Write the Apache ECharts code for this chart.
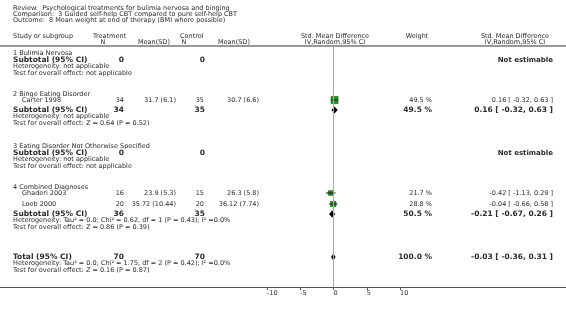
<!DOCTYPE html>
<html>
<head>
<meta charset="utf-8">
<script src="https://cdn.jsdelivr.net/npm/echarts@6/dist/echarts.min.js"></script>
<style>
html, body { margin: 0; padding: 0; background: #fff; }
#chart { width: 566px; height: 316px; }
</style>
</head>
<body>
<div id="chart"></div>
<script>
// titles
const titleLines = [
  'Review:  Psychological treatments for bulimia nervosa and binging',
  'Comparison:  3 Guided self-help CBT compared to pure self-help CBT',
  'Outcome:  8 Mean weight at end of therapy (BMI where possible)'
];

// subgroups
const groups = ['1 Bulimia Nervosa', '2 Binge Eating Disorder', '3 Eating Disorder Not Otherwise Specified', '4 Combined Diagnoses'];
const subTreatN = [0, 34, 0, 36];
const subCtrlN = [0, 35, 0, 35];
const subSmd = [null, 0.16, null, -0.21];
const subLow = [null, -0.32, null, -0.67];
const subHigh = [null, 0.63, null, 0.26];
const subWeight = [null, 49.5, null, 50.5];
const subHet = [
  'Heterogeneity: not applicable',
  'Heterogeneity: not applicable',
  'Heterogeneity: not applicable',
  'Heterogeneity: Tau\u00b2 = 0.0; Chi\u00b2 = 0.62, df = 1 (P = 0.43); I\u00b2 =0.0%'
];
const subTest = [
  'Test for overall effect: not applicable',
  'Test for overall effect: Z = 0.64 (P = 0.52)',
  'Test for overall effect: not applicable',
  'Test for overall effect: Z = 0.86 (P = 0.39)'
];

// studies
const studyNames = ['Carter 1998', 'Ghaderi 2003', 'Loeb 2000'];
const studyGroup = [1, 3, 3];
const treatN = [34, 16, 20];
const treatMean = ['31.7 (6.1)', '23.9 (5.3)', '35.72 (10.44)'];
const ctrlN = [35, 15, 20];
const ctrlMean = ['30.7 (6.6)', '26.3 (5.8)', '36.12 (7.74)'];
const studySmd = [0.16, -0.42, -0.04];
const studyLow = [-0.32, -1.13, -0.66];
const studyHigh = [0.63, 0.29, 0.58];
const studyWeight = [49.5, 21.7, 28.8];

// total
const totalN = [70, 70];
const totalSmd = -0.03;
const totalLow = -0.36;
const totalHigh = 0.31;
const totalWeight = 100.0;
const totalHet = 'Heterogeneity: Tau\u00b2 = 0.0; Chi\u00b2 = 1.75, df = 2 (P = 0.42); I\u00b2 =0.0%';
const totalTest = 'Test for overall effect: Z = 0.16 (P = 0.87)';

const xTicks = [-10, -5, 0, 5, 10];

// layout (row positions on the hidden y scale)
const groupY = [53, 94, 146, 187];
const studyY = [100, 193, 204];
const subY = [60, 110, 153, 214];
const totalY = 257;
const lineGap = 6.5;

const FONT = '"DejaVu Sans", Verdana, sans-serif';
const small = '6.5px ' + FONT;
const bold = 'bold 7.5px ' + FONT;
const boldMid = 'bold 7px ' + FONT;
const TXT = '#2a2a2a';

const fmt = (v, d) => v.toFixed(d);
const ciText = (m, l, h) => fmt(m, 2) + ' [ ' + fmt(l, 2) + ', ' + fmt(h, 2) + ' ]';

// build the table rows
const rows = [];
groups.forEach((g, gi) => {
  rows.push({ y: groupY[gi], cells: [[13, g, small, 'left']] });
  studyNames.forEach((s, si) => {
    if (studyGroup[si] !== gi) return;
    rows.push({ y: studyY[si], cells: [
      [22, s, small, 'left'],
      [124, String(treatN[si]), small, 'right'],
      [176, treatMean[si], small, 'right'],
      [204, String(ctrlN[si]), small, 'right'],
      [259, ctrlMean[si], small, 'right'],
      [432, fmt(studyWeight[si], 1) + ' %', small, 'right'],
      [553, ciText(studySmd[si], studyLow[si], studyHigh[si]), small, 'right']
    ] });
  });
  const sub = [
    [13, 'Subtotal (95% CI)', bold, 'left'],
    [124, String(subTreatN[gi]), bold, 'right'],
    [205, String(subCtrlN[gi]), bold, 'right']
  ];
  if (subSmd[gi] === null) {
    sub.push([553, 'Not estimable', boldMid, 'right']);
  } else {
    sub.push([432, fmt(subWeight[gi], 1) + ' %', bold, 'right']);
    sub.push([553, ciText(subSmd[gi], subLow[gi], subHigh[gi]), bold, 'right']);
  }
  rows.push({ y: subY[gi], cells: sub });
  rows.push({ y: subY[gi] + lineGap, cells: [[13, subHet[gi], small, 'left']] });
  rows.push({ y: subY[gi] + lineGap * 2, cells: [[13, subTest[gi], small, 'left']] });
});
rows.push({ y: totalY, cells: [
  [13, 'Total (95% CI)', bold, 'left'],
  [124, String(totalN[0]), bold, 'right'],
  [205, String(totalN[1]), bold, 'right'],
  [432, fmt(totalWeight, 1) + ' %', bold, 'right'],
  [553, ciText(totalSmd, totalLow, totalHigh), bold, 'right']
] });
rows.push({ y: totalY + lineGap, cells: [[13, totalHet, small, 'left']] });
rows.push({ y: totalY + lineGap * 2, cells: [[13, totalTest, small, 'left']] });

const studyData = studyNames.map((s, i) => [studySmd[i], studyY[i], studyLow[i], studyHigh[i], studyWeight[i]]);
const diamondData = [];
subSmd.forEach((m, i) => { if (m !== null) diamondData.push([m, subY[i], subLow[i], subHigh[i]]); });
diamondData.push([totalSmd, totalY, totalLow, totalHigh]);

const chart = echarts.init(document.getElementById('chart'));

function headerText(x, y, text, align) {
  return { type: 'text', x: x, y: y, silent: true,
    style: { text: text, font: small, fill: TXT, textAlign: align, textVerticalAlign: 'middle' } };
}

const graphics = [];
titleLines.forEach((t, i) => graphics.push(headerText(13, 8 + i * 6, t, 'left')));
graphics.push(headerText(13, 36, 'Study or subgroup', 'left'));
graphics.push(headerText(93, 36, 'Treatment', 'left'));
graphics.push(headerText(103, 42, 'N', 'center'));
graphics.push(headerText(138, 42, 'Mean(SD)', 'left'));
graphics.push(headerText(180, 36, 'Control', 'left'));
graphics.push(headerText(184, 42, 'N', 'center'));
graphics.push(headerText(218, 42, 'Mean(SD)', 'left'));
graphics.push(headerText(335, 36, 'Std. Mean Difference', 'center'));
graphics.push(headerText(335, 42, 'IV,Random,95% CI', 'center'));
graphics.push(headerText(417, 36, 'Weight', 'center'));
graphics.push(headerText(515, 36, 'Std. Mean Difference', 'center'));
graphics.push(headerText(515, 42, 'IV,Random,95% CI', 'center'));
graphics.push({ type: 'line', silent: true, shape: { x1: 0, y1: 46, x2: 566, y2: 46 },
  style: { stroke: '#999', lineWidth: 2 } });
graphics.push({ type: 'line', silent: true, shape: { x1: 0, y1: 287.5, x2: 566, y2: 287.5 },
  style: { stroke: '#555', lineWidth: 1 } });

chart.setOption({
  animation: false,
  grid: { left: 267, right: 166, top: 47, bottom: 29 },
  xAxis: {
    type: 'value', min: -10, max: 10, interval: 5,
    axisLine: { show: false },
    axisTick: { show: true, length: 3, lineStyle: { color: '#555' } },
    splitLine: { show: false },
    axisLabel: { fontSize: 6.5, fontFamily: 'DejaVu Sans', color: TXT, align: 'left', margin: 3,
      customValues: xTicks }
  },
  yAxis: { type: 'value', inverse: true, min: 47, max: 287, show: false },
  graphic: graphics,
  series: [
    {
      name: 'table', type: 'custom', silent: true, clip: false,
      data: rows.map((r, i) => [0, r.y, i]),
      renderItem: function (params, api) {
        const row = rows[api.value(2)];
        const y = api.coord([0, api.value(1)])[1];
        return {
          type: 'group',
          children: row.cells.map(c => ({
            type: 'text', x: c[0], y: y,
            style: { text: c[1], font: c[2], fill: TXT, textAlign: c[3], textVerticalAlign: 'middle' }
          }))
        };
      }
    },
    {
      name: 'studies', type: 'custom', silent: true, clip: false,
      data: studyData,
      renderItem: function (params, api) {
        const c = api.coord([api.value(0), api.value(1)]);
        const l = api.coord([api.value(2), api.value(1)]);
        const h = api.coord([api.value(3), api.value(1)]);
        const s = Math.sqrt(api.value(4));
        return {
          type: 'group',
          children: [
            { type: 'rect', shape: { x: c[0] - s / 2, y: c[1] - s / 2, width: s, height: s },
              style: { fill: '#1f9a1f', stroke: '#0b600b', lineWidth: 0.6 } },
            { type: 'line', shape: { x1: l[0], y1: c[1], x2: h[0], y2: c[1] },
              style: { stroke: '#111', lineWidth: 1 } }
          ]
        };
      },
      markLine: {
        silent: true, symbol: 'none', label: { show: false },
        lineStyle: { color: '#aaa', width: 1, type: 'solid' },
        data: [{ xAxis: 0 }]
      }
    },
    {
      name: 'diamonds', type: 'custom', silent: true, clip: false,
      data: diamondData,
      renderItem: function (params, api) {
        const c = api.coord([api.value(0), api.value(1)]);
        const l = api.coord([api.value(2), api.value(1)]);
        const h = api.coord([api.value(3), api.value(1)]);
        return {
          type: 'polygon',
          shape: { points: [[l[0], c[1]], [c[0], c[1] - 3.5], [h[0], c[1]], [c[0], c[1] + 3.5]] },
          style: { fill: '#000' }
        };
      }
    }
  ]
});
</script>
</body>
</html>
